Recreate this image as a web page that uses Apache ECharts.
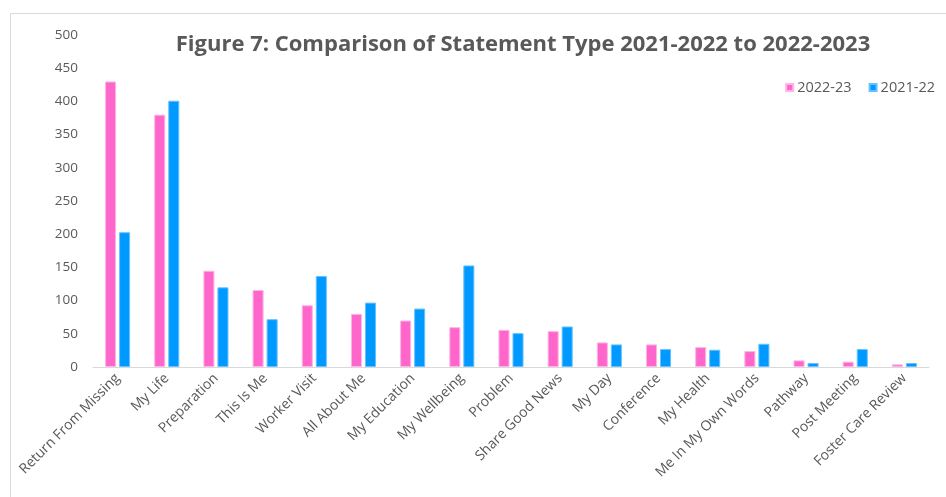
<!DOCTYPE html>
<html>
<head>
<meta charset="utf-8">
<script src="https://cdn.jsdelivr.net/npm/echarts@6/dist/echarts.min.js"></script>
<style>
html,body{margin:0;padding:0;background:#fff;}
#chart{width:946px;height:497px;}
</style>
</head>
<body>
<div id="chart"></div>
<script>
const categories = ["Return From Missing","My Life","Preparation","This Is Me","Worker Visit","All About Me","My Education","My Wellbeing","Problem","Share Good News","My Day","Conference","My Health","Me In My Own Words","Pathway","Post Meeting","Foster Care Review"];
const values2022_23 = [430,380,145,116,93,80,70,60,56,54,37,34,30,24,10,8,4];
const values2021_22 = [203,401,120,72,137,97,88,153,51,61,34,27,26,35,6,27,6];
const seriesNames = ["2022-23","2021-22"];
const titleText = "Figure 7: Comparison of Statement Type 2021-2022 to 2022-2023";

const chart = echarts.init(document.getElementById('chart'));
const font = "Open Sans";
chart.setOption({
  animation:false,
  backgroundColor:'#ffffff',
  graphic:[{type:'rect',shape:{x:10.5,y:13.5,width:1200,height:800},style:{fill:'none',stroke:'#d9d9d9',lineWidth:1},silent:true}],
  title:{text:titleText,left:518,top:29,textAlign:'center',textStyle:{fontFamily:font,fontSize:22,fontWeight:'bold',color:'#595959'}},
  legend:{data:seriesNames,right:6,top:75,itemWidth:7,itemHeight:7,itemGap:17,icon:'rect',textStyle:{fontFamily:font,fontSize:14.5,color:'#595959',padding:[0,0,0,-1]}},
  grid:{left:93,right:17,top:35,bottom:130,containLabel:false},
  xAxis:{type:'category',data:categories,
    axisLine:{lineStyle:{color:'#d9d9d9',width:1}},axisTick:{show:false},
    axisLabel:{rotate:45,interval:0,margin:9,fontFamily:font,fontSize:14,color:'#595959'}},
  yAxis:{type:'value',min:0,max:500,interval:50,
    axisLine:{show:false},axisTick:{show:false},splitLine:{show:false},
    axisLabel:{margin:15,fontFamily:font,fontSize:13.5,color:'#595959'}},
  series:[
    {name:seriesNames[0],type:'bar',data:values2022_23,barGap:'27%',barCategoryGap:'49%',
     itemStyle:{color:'#ff66cc',borderColor:'#ffb3e6',borderWidth:1}},
    {name:seriesNames[1],type:'bar',data:values2021_22,
     itemStyle:{color:'#0099ff',borderColor:'#66c2ff',borderWidth:1}}
  ]
});
</script>
</body>
</html>
